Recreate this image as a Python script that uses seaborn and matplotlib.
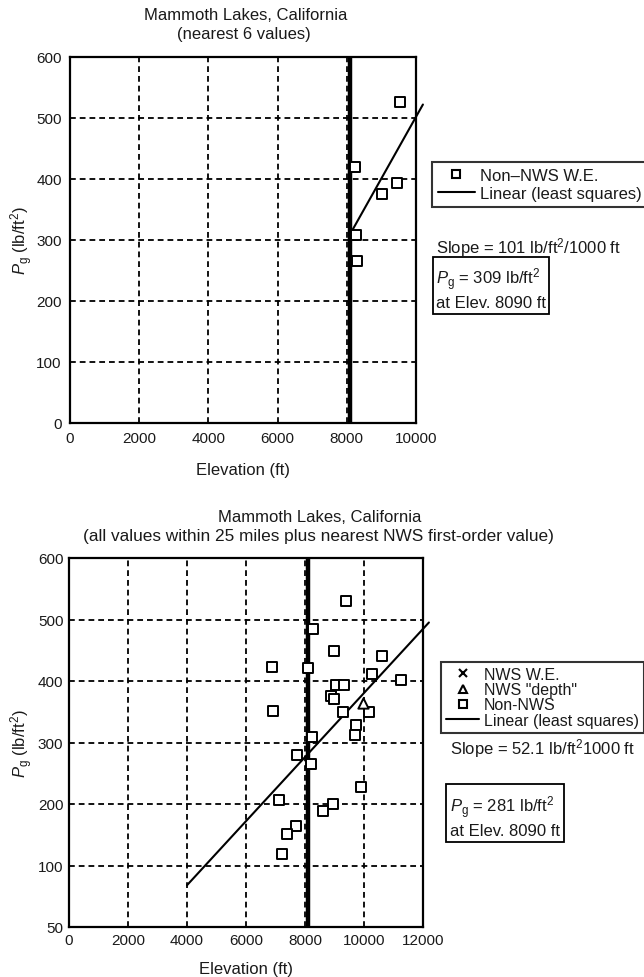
import numpy as np
import pandas as pd
import matplotlib
matplotlib.use("Agg")
import matplotlib.pyplot as plt
from matplotlib.lines import Line2D
import seaborn as sns

# ---------------- data ----------------
top_elev = [9525, 8250, 9450, 9020, 8270, 8300]
top_pg = [527, 420, 394, 376, 308, 265]
top_slope = 101.0        # lb/ft2 per 1000 ft
top_pg_site = 309        # lb/ft2 at site
site_elev = 8090
top_fit_range = [8090, 10200]

bot_nonnws_elev = [9400, 8265, 9000, 10620, 6890, 8100, 10280, 11270, 9035, 9330,
                   8890, 9000, 6930, 9290, 10160, 9730, 9700, 8230, 7725, 8200,
                   9885, 7130, 8960, 8605, 7695, 7405, 7215]
bot_nonnws_pg = [530, 484, 449, 441, 423, 421, 412, 402, 394, 394,
                 376, 370, 351, 350, 349, 328, 312, 309, 279, 265,
                 227, 206, 200, 189, 164, 152, 118]
bot_depth_elev = [9975]
bot_depth_pg = [365]
bot_slope = 52.1
bot_pg_site = 281
bot_fit_range = [4000, 12200]

top_xticks = [0, 2000, 4000, 6000, 8000, 10000]
top_yticks = [0, 100, 200, 300, 400, 500, 600]
bot_xticks = [0, 2000, 4000, 6000, 8000, 10000, 12000]
bot_yticks = [0, 100, 200, 300, 400, 500, 600]
bot_ytick_labels = ["50", "100", "200", "300", "400", "500", "600"]

# ---------------- style ----------------
sns.set_theme(style="white")
plt.rcParams["font.family"] = ["Liberation Sans", "DejaVu Sans"]
plt.rcParams["mathtext.fontset"] = "custom"
plt.rcParams["mathtext.rm"] = "Liberation Sans"
plt.rcParams["mathtext.it"] = "Liberation Sans:italic"

W, H = 644, 978
fig = plt.figure(figsize=(W / 100, H / 100), dpi=100)
fig.patch.set_facecolor("white")


def fx(px):
    return px / W


def fy(py):
    return 1 - py / H


ax1 = fig.add_axes([fx(70), fy(424), 346 / W, 366 / H])
ax2 = fig.add_axes([fx(69), fy(928), 354 / W, 369 / H])

dash = (0, (3.2, 2.2))
TFS = 11     # tick labels
FS = 12      # other text
TXT = "#1a1a1a"


def style_axes(ax, xticks, yticks, xlim, ylim, ylabels=None, pad=5):
    ax.set_xlim(*xlim)
    ax.set_ylim(*ylim)
    ax.set_xticks(xticks)
    ax.set_yticks(yticks)
    ax.set_xticklabels([str(t) for t in xticks], fontsize=TFS)
    ax.set_yticklabels(ylabels if ylabels else [str(t) for t in yticks], fontsize=TFS)
    ax.tick_params(length=0, pad=pad, colors=TXT)
    for t in xticks[1:-1]:
        ax.axvline(t, color="black", lw=1.3, ls=dash, zorder=1)
    for t in yticks[1:-1]:
        ax.axhline(t, color="black", lw=1.3, ls=dash, zorder=1)
    for s in ax.spines.values():
        s.set_color("black")
        s.set_linewidth(1.6)
    ax.axvline(site_elev, color="black", lw=3.2, zorder=2)


style_axes(ax1, top_xticks, top_yticks, (0, 10000), (0, 600), pad=6)
style_axes(ax2, bot_xticks, bot_yticks, (0, 12000), (0, 600), ylabels=bot_ytick_labels, pad=4)

# ---- top chart ----
df_top = pd.DataFrame({"Elevation": top_elev, "Pg": top_pg})
sns.scatterplot(data=df_top, x="Elevation", y="Pg", ax=ax1, marker="s", s=55,
                color="white", edgecolor="black", linewidth=1.4, zorder=4, legend=False)
fx_top = np.array(top_fit_range, dtype=float)
fy_top = top_pg_site + top_slope * (fx_top - site_elev) / 1000.0
sns.lineplot(x=fx_top, y=fy_top, ax=ax1, color="black", lw=1.5, zorder=3)
ax1.lines[-1].set_clip_on(False)

# ---- bottom chart ----
df_bot = pd.DataFrame({"Elevation": bot_nonnws_elev, "Pg": bot_nonnws_pg})
sns.scatterplot(data=df_bot, x="Elevation", y="Pg", ax=ax2, marker="s", s=55,
                color="white", edgecolor="black", linewidth=1.4, zorder=4, legend=False)
df_dep = pd.DataFrame({"Elevation": bot_depth_elev, "Pg": bot_depth_pg})
sns.scatterplot(data=df_dep, x="Elevation", y="Pg", ax=ax2, marker="^", s=55,
                color="white", edgecolor="black", linewidth=1.4, zorder=4, legend=False)
fx_bot = np.array(bot_fit_range, dtype=float)
fy_bot = bot_pg_site + bot_slope * (fx_bot - site_elev) / 1000.0
sns.lineplot(x=fx_bot, y=fy_bot, ax=ax2, color="black", lw=1.5, zorder=3)
ax2.lines[-1].set_clip_on(False)

for ax in (ax1, ax2):
    ax.set_xlabel("Elevation (ft)", fontsize=FS, color=TXT)
    ax.set_ylabel(r"$P_{\mathrm{g}}$ (lb/ft$^2$)", fontsize=FS, color=TXT)
ax1.xaxis.set_label_coords(0.5, -39 / 366)
ax1.yaxis.set_label_coords(-35 / 346, 0.5)
ax2.xaxis.set_label_coords(0.5, -34 / 369)
ax2.yaxis.set_label_coords(-34 / 354, 0.5)

# ---- titles ----
fig.text(fx(246), fy(15), "Mammoth Lakes, California", ha="center", va="center", fontsize=FS, color=TXT)
fig.text(fx(244), fy(34), "(nearest 6 values)", ha="center", va="center", fontsize=FS, color=TXT)
fig.text(fx(320), fy(517), "Mammoth Lakes, California", ha="center", va="center", fontsize=FS, color=TXT)
fig.text(fx(318), fy(537), "(all values within 25 miles plus nearest NWS first-order value)",
         ha="center", va="center", fontsize=12.4, color=TXT)

# ---- legends ----
sq = dict(marker="s", markersize=6, markerfacecolor="white", markeredgecolor="black",
          markeredgewidth=1.5, linestyle="none", color="black")
h_top = [Line2D([], [], **sq), Line2D([], [], color="black", lw=1.5)]
leg1 = fig.legend(h_top, ["Non\u2013NWS W.E.", "Linear (least squares)"],
                  loc="upper left", bbox_to_anchor=(fx(432), fy(163)), frameon=True,
                  fancybox=False, edgecolor="black", borderaxespad=0, fontsize=FS,
                  handlelength=2.2, handletextpad=0.3, borderpad=0.35, labelspacing=0.2)
leg1.get_frame().set_linewidth(1.5)
for t in leg1.get_texts():
    t.set_color(TXT)

h_bot = [Line2D([], [], marker="x", markersize=6, color="black", markeredgewidth=1.5, linestyle="none"),
         Line2D([], [], marker="^", markersize=6, markerfacecolor="white", markeredgecolor="black",
                markeredgewidth=1.5, linestyle="none"),
         Line2D([], [], **sq),
         Line2D([], [], color="black", lw=1.5)]
leg2 = fig.legend(h_bot, ["NWS W.E.", "NWS \"depth\"", "Non-NWS", "Linear (least squares)"],
                  loc="upper left", bbox_to_anchor=(fx(441), fy(663)), frameon=True,
                  fancybox=False, edgecolor="black", borderaxespad=0, fontsize=11.5,
                  handlelength=2.1, handletextpad=0.3, borderpad=0.3, labelspacing=0.02)
leg2.get_frame().set_linewidth(1.5)
for t in leg2.get_texts():
    t.set_color(TXT)

# ---- annotations ----
fig.text(fx(436), fy(248), "Slope = %g lb/ft$^2$/1000 ft" % top_slope, ha="left", va="center",
         fontsize=FS, color=TXT)
fig.text(fx(436), fy(289), "$P_{\\mathrm{g}}$ = %d lb/ft$^2$\nat Elev. %d ft" % (top_pg_site, site_elev),
         ha="left", va="center", fontsize=FS, linespacing=1.25, color=TXT,
         bbox=dict(boxstyle="square,pad=0.2", fc="white", ec="black", lw=1.3))
fig.text(fx(450), fy(749), "Slope = %g lb/ft$^2$1000 ft" % bot_slope, ha="left", va="center",
         fontsize=FS, color=TXT)
fig.text(fx(450), fy(817), "$P_{\\mathrm{g}}$ = %d lb/ft$^2$\nat Elev. %d ft" % (bot_pg_site, site_elev),
         ha="left", va="center", fontsize=FS, linespacing=1.25, color=TXT,
         bbox=dict(boxstyle="square,pad=0.25", fc="white", ec="black", lw=1.3))

fig.savefig("out.png", dpi=100, facecolor="white")
